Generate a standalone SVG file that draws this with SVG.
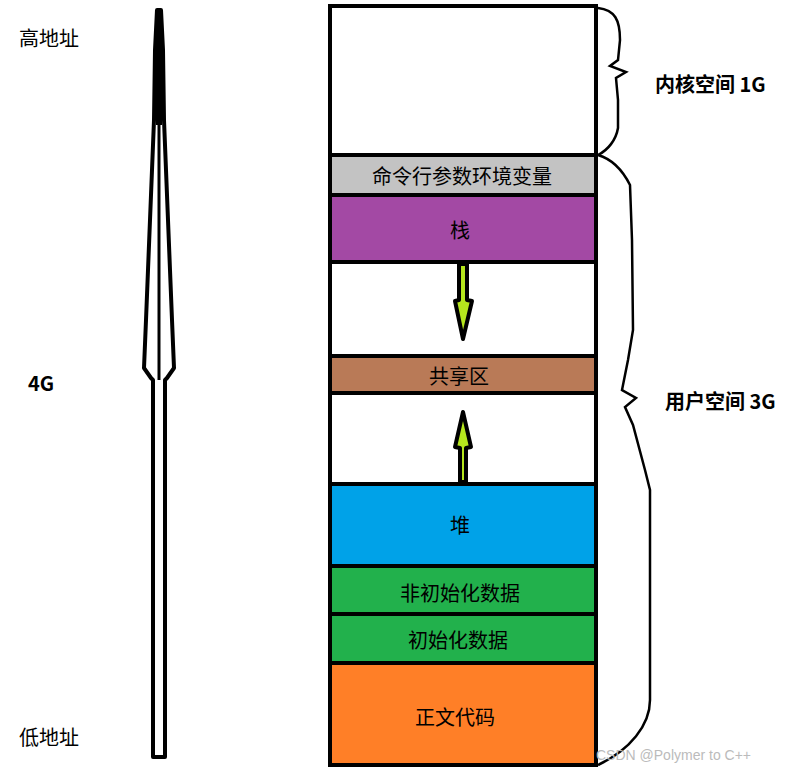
<svg xmlns="http://www.w3.org/2000/svg" width="810" height="780" viewBox="0 0 810 780">
<style>
.t{font-family:"Noto Sans CJK SC","Liberation Sans",sans-serif;font-size:20px;fill:#000;text-anchor:middle;dominant-baseline:central}
.b{font-weight:bold;text-anchor:start}
.seg{stroke:#000;stroke-width:4}
.br{fill:none;stroke:#000;stroke-width:2.5}
</style>
<rect width="810" height="780" fill="#fff"/>
<g id="labels-left">
<text class="t" x="49" y="37">高地址</text>
<text class="t b" x="28" y="382">4G</text>
<text class="t" x="49" y="736">低地址</text>
</g>
<g id="needle">
<polygon points="157,10 161,10 163,50 164,120 166,170 168,220 170,270 172,320 174,368 167,378 165,380 165,757 153,757 153,380 151,378 144,368 146,320 148,270 150,220 152,170 154,120 155,50" fill="#fff" stroke="#000" stroke-width="4" stroke-linejoin="round"/>
<polygon points="157,12 161,12 163,60 162,125 156,125 155,60" fill="#000"/>
<line x1="159" y1="125" x2="159" y2="380" stroke="#000" stroke-width="3"/>
</g>
<g id="kernel"><rect class="seg" x="330" y="6" width="266" height="149" fill="#fff"/></g>
<g id="env"><rect class="seg" x="330" y="155" width="266" height="40" fill="#c3c3c3"/><text class="t" x="462" y="175">命令行参数环境变量</text></g>
<g id="stack"><rect class="seg" x="330" y="195" width="266" height="67" fill="#a349a4"/><text class="t" x="460" y="229">栈</text></g>
<g id="gap1"><rect class="seg" x="330" y="262" width="266" height="94" fill="#fff"/></g>
<g id="shared"><rect class="seg" x="330" y="356" width="266" height="37" fill="#b97a57"/><text class="t" x="459" y="375">共享区</text></g>
<g id="gap2"><rect class="seg" x="330" y="393" width="266" height="91" fill="#fff"/></g>
<g id="heap"><rect class="seg" x="330" y="484" width="266" height="82" fill="#00a2e8"/><text class="t" x="460" y="524">堆</text></g>
<g id="bss"><rect class="seg" x="330" y="566" width="266" height="48" fill="#22b14c"/><text class="t" x="460" y="592">非初始化数据</text></g>
<g id="data"><rect class="seg" x="330" y="614" width="266" height="49" fill="#22b14c"/><text class="t" x="458" y="639">初始化数据</text></g>
<line x1="330" y1="614" x2="596" y2="614" stroke="#000" stroke-width="4" stroke-dasharray="22,8"/>
<g id="text"><rect class="seg" x="330" y="663" width="266" height="102" fill="#ff7f27"/><text class="t" x="455" y="716">正文代码</text></g>
<g id="connectors">
<polygon points="459,264 467,264 467,300 472,301 463,339 455,301 459,300" fill="#b5e61d" stroke="#000" stroke-width="4" stroke-linejoin="round"/>
<polygon points="460,482 466,482 466,448 471,447 463,412 455,447 460,448" fill="#b5e61d" stroke="#000" stroke-width="4" stroke-linejoin="round"/>
<path class="br" d="M598,8 C615,10 620,20 620,40 L618,60 L610,66 L626,72 L616,78 L618,100 L618,128 C616,140 608,150 598,155"/>
<path class="br" d="M598,155 C615,160 625,175 630,185 L632,240 L633,330 L628,360 L622,390 L636,398 L625,407 L633,425 L645,470 L650,490 L650,700 C650,725 630,750 598,765"/>
</g>
<g id="labels-right">
<text class="t b" x="655" y="83">内核空间 1G</text>
<text class="t b" x="665" y="400">用户空间 3G</text>
</g>
<text x="596" y="760" font-family="Liberation Sans,sans-serif" font-size="14" fill="#bbb">CSDN @Polymer to C++</text>
</svg>
